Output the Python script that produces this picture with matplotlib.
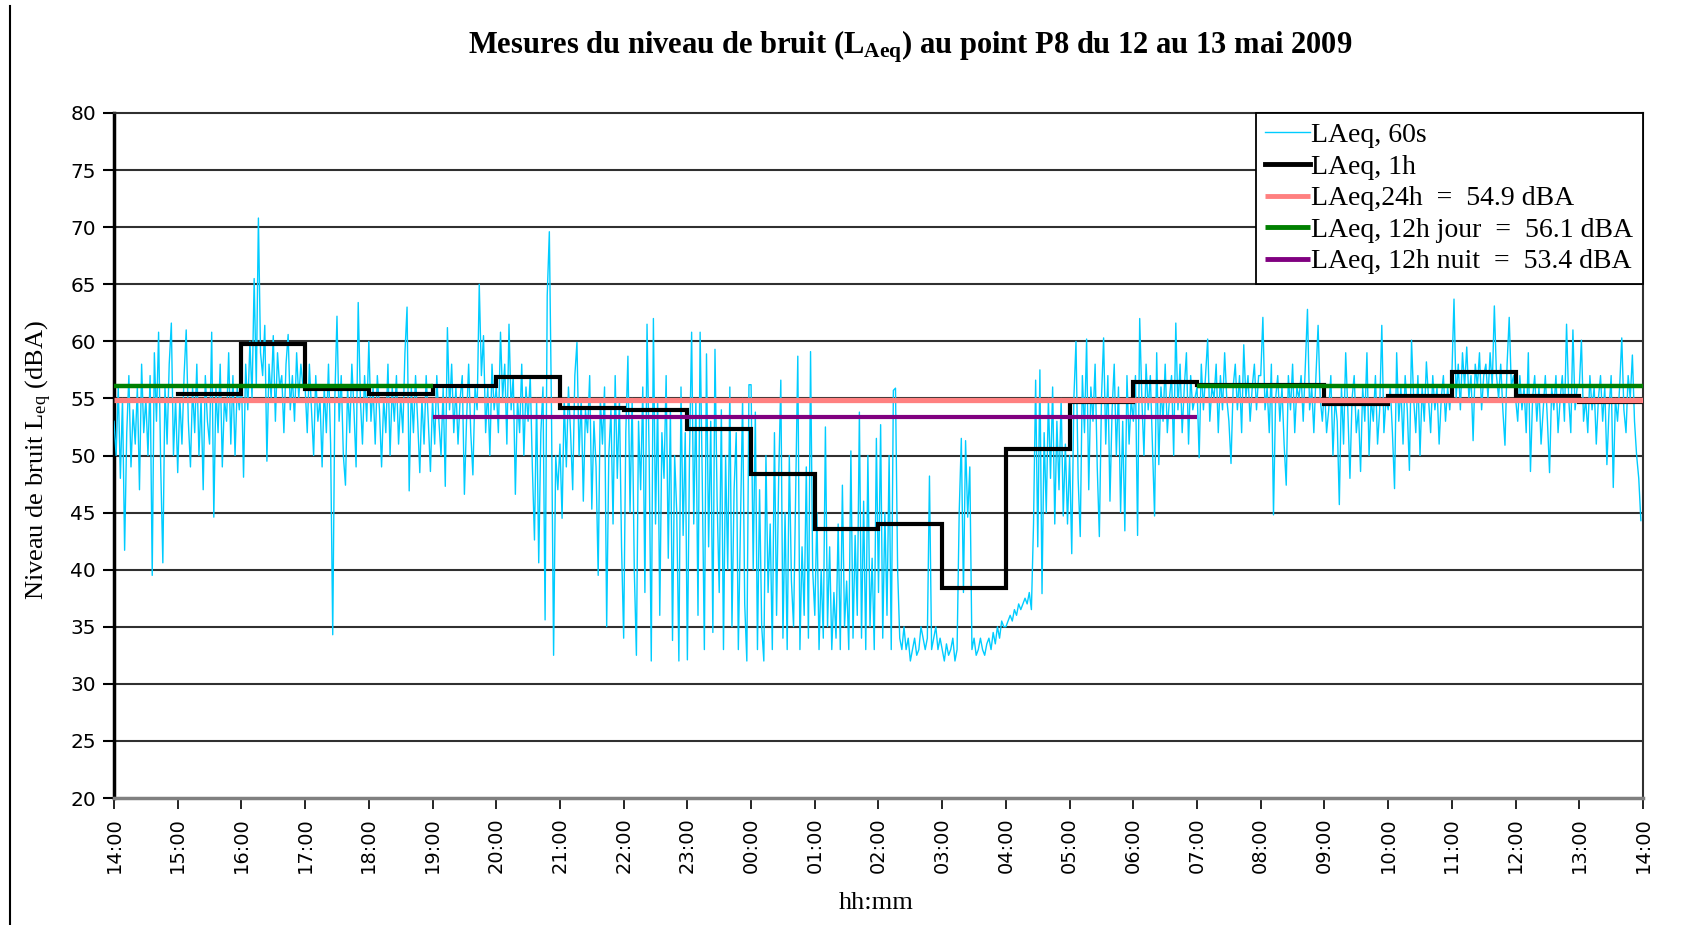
import matplotlib
matplotlib.use('Agg')
import matplotlib.pyplot as plt
from matplotlib.lines import Line2D
import numpy as np

# ---------------- data ----------------
tick_labels = ['14:00', '15:00', '16:00', '17:00', '18:00', '19:00', '20:00', '21:00',
               '22:00', '23:00', '00:00', '01:00', '02:00', '03:00', '04:00', '05:00',
               '06:00', '07:00', '08:00', '09:00', '10:00', '11:00', '12:00', '13:00', '14:00']

# LAeq 60s, read every 2 minutes, one list per hour (dBA)
h14 = [53, 50, 56, 48, 55, 41.7, 52, 57, 49, 54, 51, 56, 47, 58, 52, 55, 50, 57, 39.5, 59, 53, 60.8, 49, 40.6, 56, 51, 58, 61.6, 50, 55]
h15 = [48.5, 55, 51, 57, 61, 53, 49, 56, 52, 58, 50, 55, 47, 57, 53, 51, 60.8, 44.6, 56, 52, 58, 49, 55, 53, 59, 51, 57, 50, 56, 54]
h16 = [57, 48.1, 58, 54, 60, 55, 65.5, 56, 70.8, 59, 57, 61.4, 49.5, 58, 55, 60.5, 53, 59, 56, 57, 52, 58, 60.6, 54, 57, 53, 59, 55, 58, 56]
h17 = [56, 52, 58, 54, 50, 57, 53, 55, 49, 56, 52, 58, 51, 34.3, 55, 62.2, 53, 57, 50, 47.4, 56, 52, 58, 54, 49, 63.4, 55, 51, 57, 53]
h18 = [60, 53, 56, 51, 57, 54, 49, 55, 52, 58, 50, 56, 53, 57, 51, 55, 52, 59, 63, 46.9, 56, 52, 57, 53, 48.5, 55, 51, 57, 53, 48.6]
h19 = [55, 51, 57, 53, 50, 56, 47.3, 61.2, 54, 58, 52, 56, 51, 55, 57, 46.6, 53, 58, 52, 48.3, 56, 54, 65, 57, 60.5, 52, 56, 50, 58, 54]
h20 = [56, 52, 60.8, 55, 58, 51, 61.5, 54, 57, 46.6, 55, 52, 58, 50, 56, 53, 57, 49, 42.6, 55, 40.6, 52, 56, 35.6, 64, 69.6, 54, 32.5, 50, 47]
h21 = [51, 44.5, 55, 49, 56, 52, 47, 57, 59.9, 50, 55, 46, 54, 52, 57, 45.3, 53, 49, 39.5, 55, 51, 56, 35, 50, 54, 44, 57, 48, 55, 42]
h22 = [34, 52, 58.7, 45, 55, 40, 32.5, 53, 47, 56, 38, 61.5, 50, 32, 62, 44, 55, 36, 52, 48, 57, 41, 54, 33.8, 50, 45, 32, 56, 43, 52]
h23 = [32.1, 50, 60.8, 44, 55, 36, 60.8, 48, 33, 58.9, 42, 53, 34.5, 59.3, 46, 38, 54, 33, 50, 40, 56, 35, 47, 52, 33, 44, 55, 37, 32, 56.2]
h00 = [56.2, 40, 53.8, 33, 47, 35, 32, 50, 38, 44, 33, 52, 36, 48, 56.6, 34, 45, 33, 50, 39, 35, 47, 58.7, 33, 42, 36, 49, 34, 59.1, 40]
h01 = [36, 45, 33, 40, 34, 52.5, 35, 42, 33, 38, 34, 44, 33, 47.4, 35, 39, 33, 50.4, 34, 43, 36, 53.8, 34, 46, 33, 50, 35, 41, 33, 51.5]
h02 = [38, 52.7, 34, 45, 36, 50, 33, 55.7, 55.9, 40, 34, 33, 35, 33, 34, 32, 33, 34, 32.5, 33, 35, 34, 33, 34, 48.2, 33, 34, 35, 33, 34]
h03 = [33, 32, 33.5, 32.5, 33, 34, 32, 33, 45, 51.5, 38, 51.3, 44.6, 49, 33, 34, 32.5, 33, 34, 33, 32.5, 33.5, 34, 33, 34.5, 33.5, 35, 34, 35.5, 35]
h04 = [35, 35.5, 36, 35.5, 36.5, 36, 37, 36.5, 37, 37.5, 37, 38, 36.5, 44, 56.6, 42, 57.5, 37.9, 52, 45, 55, 48, 56, 44, 53, 47, 55, 44.7, 51, 44]
h05 = [50, 41.4, 55, 60, 48, 42.9, 57, 52, 60.2, 47, 56, 53, 58, 49, 42.9, 55, 60.3, 51, 57, 46, 54, 58, 50, 56, 45, 53, 43.4, 57, 51, 55]
h06 = [53, 57, 43, 62, 55, 50, 58, 54, 57, 51, 44.7, 59, 49.2, 56, 53, 58, 52, 55, 57, 50, 61.6, 54, 58, 52, 56, 59, 51, 57, 54, 55]
h07 = [56, 49.8, 58, 54, 57, 60.2, 53, 56, 55, 58, 52, 57, 54, 59, 55, 53, 49.3, 56, 58, 54, 57, 52, 59.7, 55, 57, 53, 56, 58, 54, 57]
h08 = [57, 62.1, 54, 56, 52, 58, 44.8, 55, 57, 53, 56, 51, 47.4, 57, 54, 58, 52, 56, 55, 57, 53, 58, 62.8, 54, 56, 52, 57, 61.4, 55, 53]
h09 = [56, 52, 54, 57, 50, 55, 53, 45.7, 56, 51, 59, 54, 48, 55, 57, 52, 54, 48.6, 56, 53, 59, 50, 55, 53, 57, 51, 54, 61.4, 52, 55]
h10 = [54, 56, 52, 47.1, 59, 53, 56, 51, 57, 54, 48.7, 60.1, 55, 52, 57, 50, 56, 53, 58.2, 55, 52, 57, 54, 56, 51, 55, 57, 53, 56, 54]
h11 = [57, 63.7, 55, 58, 54, 59, 56, 59.5, 55, 57, 51.3, 58, 56, 59, 54, 57, 58, 55, 59, 56, 63.1, 57, 55, 58, 54, 50.9, 58, 62.1, 56, 57]
h12 = [55, 53, 57, 54, 56, 52, 59, 48.6, 55, 57, 53, 56, 51, 54, 57, 53, 48.5, 56, 54, 57, 52, 55, 57, 53, 61.5, 55, 52, 61, 54, 56]
h13 = [56, 60.1, 53, 55, 52, 57, 54, 56, 51, 55, 57, 53, 56, 49.2, 54, 57, 47.2, 55, 53, 56, 60.3, 54, 52, 57, 55, 58.8, 53, 50, 48, 44.3]

# LAeq 1h, hours starting 15:00 ... 13:00
laeq_1h = [55.4, 59.8, 55.8, 55.4, 56.1, 56.9, 54.2, 54.0, 52.3, 48.4, 43.6, 44.0,
           38.4, 50.6, 54.7, 56.4, 56.2, 56.2, 54.5, 55.2, 57.3, 55.2, 54.7]

laeq_24h = 54.9
laeq_jour = 56.1
laeq_nuit = 53.4

series_labels = ['LAeq, 60s', 'LAeq, 1h', 'LAeq,24h  =  54.9 dBA',
                 'LAeq, 12h jour  =  56.1 dBA', 'LAeq, 12h nuit  =  53.4 dBA']

# ---------------- figure ----------------
plt.rcParams['mathtext.fontset'] = 'custom'
plt.rcParams['mathtext.rm'] = 'Liberation Serif'
plt.rcParams['mathtext.it'] = 'Liberation Serif:italic'
plt.rcParams['mathtext.bf'] = 'Liberation Serif:bold'

W, H = 1706, 925
fig = plt.figure(figsize=(W / 100, H / 100), dpi=100)
fig.patch.set_facecolor('white')

x0, x1, y0, y1 = 114, 1643, 113, 798
ax = fig.add_axes([x0 / W, 1 - y1 / H, (x1 - x0) / W, (y1 - y0) / H])

laeq_60s = (h14 + h15 + h16 + h17 + h18 + h19 + h20 + h21 + h22 + h23 + h00 + h01 +
            h02 + h03 + h04 + h05 + h06 + h07 + h08 + h09 + h10 + h11 + h12 + h13)
minutes = np.arange(len(laeq_60s)) * 2

ax.plot(minutes, laeq_60s, color='#00CCFF', lw=1.0, zorder=3, label=series_labels[0])

edges = np.arange(1, len(laeq_1h) + 2) * 60
ax.step(edges, laeq_1h + [laeq_1h[-1]], where='post', color='black', lw=3.0,
        zorder=4, label=series_labels[1], solid_joinstyle='miter')

ax.plot([0, 1440], [laeq_24h, laeq_24h], color='#FF8080', lw=3.8, zorder=5,
        label=series_labels[2], solid_capstyle='butt')
ax.plot([0, 300, np.nan, 1020, 1440], [laeq_jour, laeq_jour, np.nan, laeq_jour, laeq_jour],
        color='#008000', lw=3.2, zorder=6, label=series_labels[3], solid_capstyle='butt')
ax.plot([300, 1020], [laeq_nuit, laeq_nuit], color='#800080', lw=3.0, zorder=7,
        label=series_labels[4], solid_capstyle='butt')

ax.set_xlim(0, 1440)
ax.set_ylim(20, 80)
ax.set_xticks(np.arange(0, 1441, 60))
ax.set_xticklabels(tick_labels, rotation=90, fontsize=14, family='DejaVu Sans')
ax.set_yticks(np.arange(20, 81, 5))
ax.set_yticklabels([str(v) for v in range(20, 81, 5)], fontsize=14.5, family='DejaVu Sans')
ax.tick_params(axis='y', direction='out', length=8, width=1.5, pad=5, colors='black')
ax.tick_params(axis='x', direction='out', length=8, width=1.2, pad=6, colors='black')

for yv in range(25, 80, 5):
    ax.axhline(yv, color='#303030', lw=1.5, zorder=1)

ax.spines['left'].set_linewidth(2.5)
ax.spines['left'].set_color('black')
ax.spines['bottom'].set_linewidth(2.5)
ax.spines['bottom'].set_color('#808080')
ax.spines['top'].set_linewidth(1.5)
ax.spines['top'].set_color('#303030')
ax.spines['right'].set_linewidth(1.5)
ax.spines['right'].set_color('#303030')

leg = ax.legend(loc='upper right', bbox_to_anchor=(1.0, 1.0), borderaxespad=0,
                prop={'family': 'Liberation Serif', 'size': 20}, frameon=True,
                fancybox=False, framealpha=1, edgecolor='black', handlelength=1.6,
                handletextpad=0.05, labelspacing=0.22, borderpad=0.35)
leg.get_frame().set_linewidth(1.3)
leg.set_zorder(10)
for ln in leg.get_lines()[1:]:
    ln.set_linewidth(3.5)

fig.text(910 / W, 1 - 47 / H,
         r'Mesures du niveau de bruit (L$_{\mathbf{Aeq}}$) au point P8 du 12 au 13 mai 2009',
         ha='center', va='center', fontsize=22, fontweight='bold', family='Liberation Serif')
fig.text(39 / W, 1 - 460 / H, r'Niveau de bruit L$_{\mathrm{eq}}$ (dBA)', rotation=90,
         ha='center', va='center', fontsize=19, family='Liberation Serif')
fig.text(876 / W, 1 - 903 / H, 'hh:mm', ha='center', va='center', fontsize=19,
         family='Liberation Serif')

fig.add_artist(Line2D([10.5 / W, 10.5 / W], [0, 1 - 6 / H], color='black', lw=1.5,
                      transform=fig.transFigure))

fig.savefig('out.png', dpi=100, facecolor='white')
